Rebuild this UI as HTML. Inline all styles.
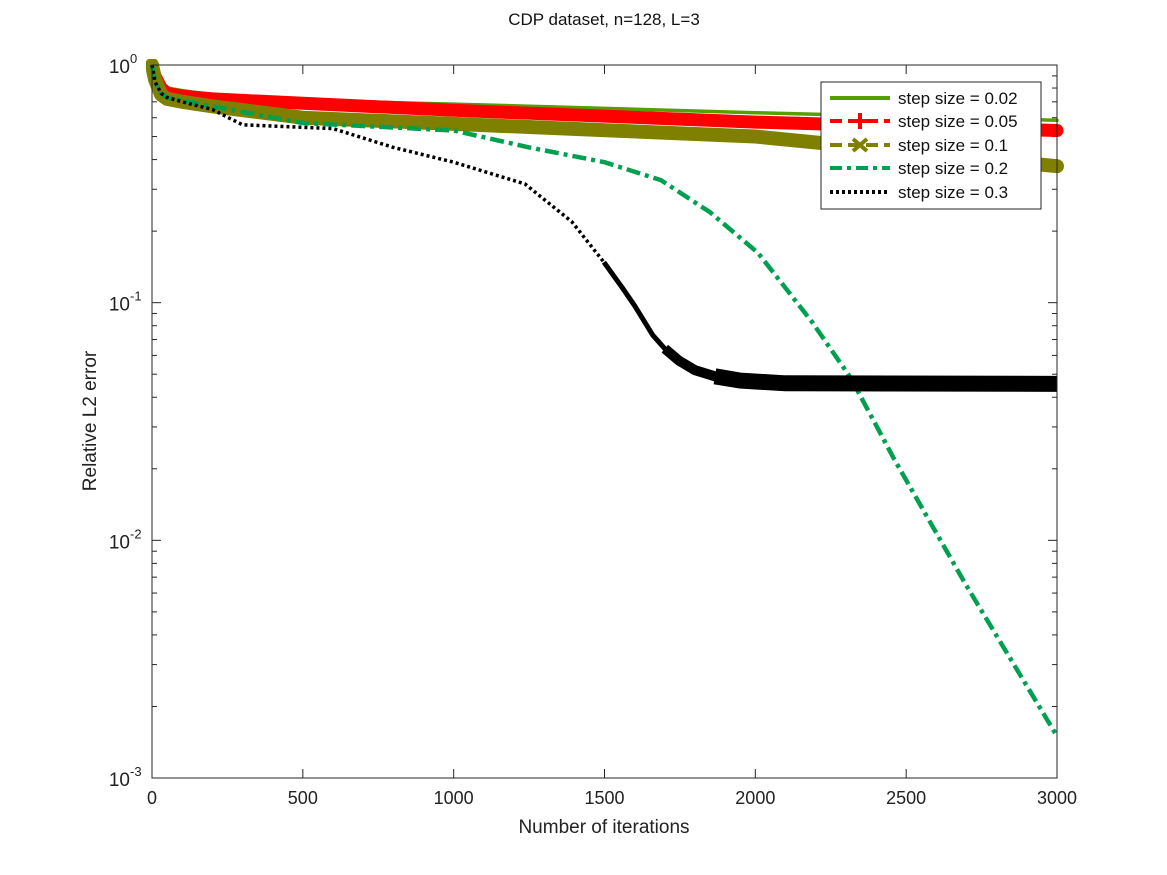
<!DOCTYPE html>
<html><head><meta charset="utf-8"><style>
body{margin:0;background:#fff;}
svg{display:block;font-family:"Liberation Sans",Arial,sans-serif;}
</style></head><body>
<svg id="chart" width="1167" height="875" viewBox="0 0 1167 875" xmlns="http://www.w3.org/2000/svg">
<rect width="1167" height="875" fill="#fff"/>
<text x="604" y="25" font-size="17" text-anchor="middle" fill="#111">CDP dataset, n=128, L=3</text>
<text x="604" y="833" font-size="19" text-anchor="middle" fill="#222">Number of iterations</text>
<text transform="translate(96,421) rotate(-90)" font-size="19" text-anchor="middle" fill="#222">Relative L2 error</text>
<g id="ticks"></g>
<g id="series"></g>
<rect x="152" y="65" width="905" height="713" fill="none" stroke="#262626" stroke-width="1"/>
<g id="legend"></g>
</svg>
<script>
const xTicks = [0,500,1000,1500,2000,2500,3000];
const yExps = [0,-1,-2,-3];
const seriesNames = ["step size = 0.02","step size = 0.05","step size = 0.1","step size = 0.2","step size = 0.3"];
const iters02 = [0,10,30,50,100,200,500,1000,2000,3000];
const vals02 = [1.0,0.92,0.83,0.8,0.78,0.75,0.71,0.685,0.63,0.585];
const iters05 = [0,10,30,50,100,200,500,1000,2000,3000];
const vals05 = [1.0,0.9,0.8,0.76,0.74,0.72,0.69,0.645,0.575,0.53];
const iters1 = [0,10,30,50,100,200,500,1000,2000,3000];
const vals1 = [1.0,0.87,0.75,0.72,0.70,0.67,0.6,0.565,0.5,0.375];
const iters2 = [0,10,30,50,100,200,500,1000,1250,1500,1687,1850,2009,2188,2317,2460,2698,3000];
const vals2 = [1.0,0.85,0.76,0.73,0.71,0.67,0.57,0.53,0.45,0.39,0.328,0.24,0.162,0.083,0.048,0.022,0.0065,0.0015];
const iters3 = [0,10,30,50,100,200,300,600,800,1000,1236,1392,1498,1558,1600,1628,1660,1700,1747,1800,1866,1950,2100,3000];
const vals3 = [1.0,0.85,0.76,0.73,0.7,0.65,0.56,0.54,0.45,0.39,0.316,0.219,0.148,0.116,0.097,0.085,0.073,0.064,0.057,0.052,0.049,0.047,0.0458,0.0455];

const X0=152,X1=1057,Y0=65,Y1=778;
const xs = v => X0 + (v/3000)*(X1-X0);
const ys = v => Y0 + (-Math.log10(v))/3*(Y1-Y0);
const NS="http://www.w3.org/2000/svg";
function mk(tag, attrs, parent){const e=document.createElementNS(NS,tag);for(const k in attrs)e.setAttribute(k,attrs[k]);parent.appendChild(e);return e;}
const tg=document.getElementById('ticks');
xTicks.forEach(t=>{
  const x=xs(t);
  const a=mk('line',{x1:x,x2:x,y1:Y1,y2:Y1-9,stroke:'#262626'},tg);
  
  
  mk('line',{x1:x,x2:x,y1:Y0,y2:Y0+9,stroke:'#262626'},tg);
  const tx=mk('text',{x:x,y:804,'font-size':18,'text-anchor':'middle',fill:'#222'},tg);
  tx.textContent=t;
  
  
});
yExps.forEach(e=>{
  const y=ys(Math.pow(10,e));
  const a=mk('line',{x1:X0,x2:X0+9,y1:y,y2:y,stroke:'#262626'},tg);
  
  
  mk('line',{x1:X1,x2:X1-9,y1:y,y2:y,stroke:'#262626'},tg);
  const tx=mk('text',{x:130,y:y+8,'font-size':19,'text-anchor':'end',fill:'#222'},tg);
  tx.textContent='10';
  
  
  const sp=mk('text',{x:130,y:y-2,'font-size':13,'text-anchor':'start',fill:'#222'},tg);
  sp.textContent=String(e);
  
  
  if(e>-3){for(let m=2;m<=9;m++){const yy=ys(m*Math.pow(10,e-1));
    mk('line',{x1:X0,x2:X0+5,y1:yy,y2:yy,stroke:'#262626'},tg);
    mk('line',{x1:X1,x2:X1-5,y1:yy,y2:yy,stroke:'#262626'},tg);}}
});
const sg=document.getElementById('series');
const defs=mk('defs',{},sg);
const cp=mk('clipPath',{id:'clip'},defs);
mk('rect',{x:X0-6,y:Y0-6,width:X1-X0+14,height:Y1-Y0+6},cp);
function path(it,vals){return it.map((t,i)=>(i?'L':'M')+xs(t).toFixed(1)+','+ys(vals[i]).toFixed(1)).join(' ');}
const styles=[
 {c:'#55A000',w:3.5,d:'',cap:'round',its:iters02,v:vals02,n:'series-step-0-02'},
 {c:'#FF0000',w:13,d:'',cap:'round',its:iters05,v:vals05,n:'series-step-0-05'},
 {c:'#808000',w:14,d:'',cap:'round',its:iters1,v:vals1,n:'series-step-0-1'},
 {c:'#00A050',w:4.5,d:'14,5,4,5',cap:'butt',its:iters2,v:vals2,n:'series-step-0-2'},
 {c:'#000000',w:3.5,d:'3,3',cap:'butt',its:iters3,v:vals3,n:'series-step-0-3'}];
styles.forEach(s=>{
  const p=mk('path',{d:path(s.its,s.v),fill:'none',stroke:s.c,'stroke-width':s.w,'stroke-dasharray':s.d,'stroke-linejoin':'round','stroke-linecap':s.cap,'clip-path':'url(#clip)'},sg);
  
  
});
const bi2=iters3.map((t,i)=>i).filter(i=>iters3[i]>=1498&&iters3[i]<=1800);
const mid=mk('path',{d:path(bi2.map(i=>iters3[i]),bi2.map(i=>vals3[i])),fill:'none',stroke:'#000','stroke-width':5,'stroke-linejoin':'round'},sg);


const bi3=iters3.map((t,i)=>i).filter(i=>iters3[i]>=1700&&iters3[i]<=1950);
mk('path',{d:path(bi3.map(i=>iters3[i]),bi3.map(i=>vals3[i])),fill:'none',stroke:'#000','stroke-width':10,'stroke-linejoin':'round'},sg);
const bi=iters3.map((t,i)=>i).filter(i=>iters3[i]>=1866);
const band=mk('path',{d:path(bi.map(i=>iters3[i]),bi.map(i=>vals3[i])),fill:'none',stroke:'#000','stroke-width':16,'clip-path':'url(#clip)'},sg);



const lg=document.getElementById('legend');
mk('rect',{x:821,y:82,width:220,height:127,fill:'#fff',stroke:'#262626'},lg);
const rowsY=[98,121,145,168,192];
const ldash=['','12,6','12,6','12,5,4,5','3,3'];
seriesNames.forEach((n,i)=>{
  const s=styles[i];const y=rowsY[i];
  const ln=mk('line',{x1:830,x2:890,y1:y,y2:y,stroke:s.c,'stroke-width':4,'stroke-dasharray':ldash[i]},lg);
  
  
  if(i===1){mk('line',{x1:860,x2:860,y1:y-8,y2:y+8,stroke:s.c,'stroke-width':4},lg);mk('line',{x1:852,x2:868,y1:y,y2:y,stroke:s.c,'stroke-width':4},lg);}
  if(i===2){mk('path',{d:`M853,${y-6}L867,${y+6}M853,${y+6}L867,${y-6}`,stroke:s.c,'stroke-width':4},lg);}
  const t=mk('text',{x:898,y:y+6,'font-size':17,fill:'#111'},lg);
  t.textContent=n;
  
  
});
</script>
</body></html>
